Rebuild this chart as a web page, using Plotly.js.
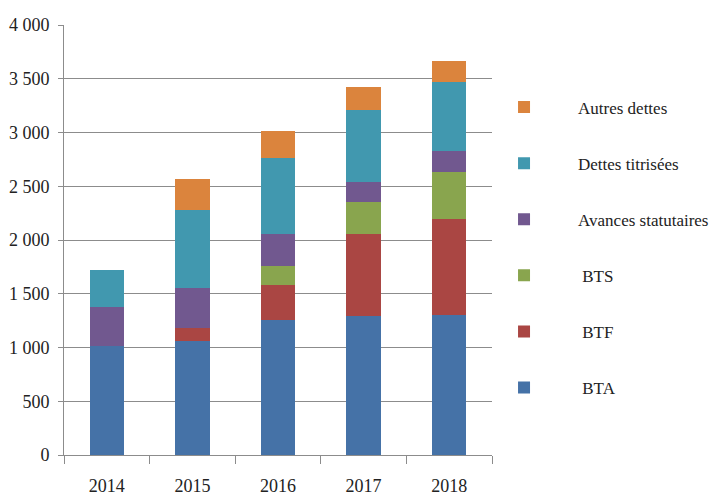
<!DOCTYPE html>
<html>
<head>
<meta charset="utf-8">
<script src="https://cdn.plot.ly/plotly-3.0.1.min.js"></script>
<style>html,body{margin:0;padding:0;background:#fff;}#chart{width:710px;height:495px;}</style>
</head>
<body>
<div id="chart"></div>
<script>
var years = ['2014', '2015', '2016', '2017', '2018'];
var bta = [1016, 1062, 1258, 1291, 1304];
var btf = [0, 115, 319, 763, 890];
var bts = [0, 0, 183, 298, 434];
var avances = [365, 378, 297, 183, 204];
var dettesTitrisees = [342, 726, 707, 676, 639];
var autresDettes = [0, 285, 252, 214, 192];
var seriesNames = ['BTA', 'BTF', 'BTS', 'Avances statutaires', 'Dettes titrisées', 'Autres dettes'];
var seriesValues = [bta, btf, bts, avances, dettesTitrisees, autresDettes];
var colors = ['#4572A7', '#AA4643', '#89A54E', '#71588F', '#4198AF', '#DB843D'];
var pad = '\u00a0\u00a0\u00a0\u00a0\u00a0\u00a0\u00a0\u00a0';
var labelPrefix = [pad + '\u00a0', pad + '\u00a0', pad + '\u00a0', pad, pad, pad];

var traces = seriesValues.map(function (vals, i) {
  return {
    type: 'bar',
    x: years,
    y: vals,
    name: labelPrefix[i] + seriesNames[i],
    legendgroup: 'g' + i,
    legendrank: 1000 - i * 10,
    marker: {color: colors[i], line: {width: 0}},
    hoverinfo: 'x+y+name'
  };
});

var layout = {
  width: 710,
  height: 495,
  barmode: 'stack',
  bargap: 0.6,
  separators: ', ',
  paper_bgcolor: '#ffffff',
  plot_bgcolor: '#ffffff',
  margin: {l: 64, r: 218, t: 25, b: 40},
  font: {family: '"Liberation Serif", "DejaVu Serif", serif', size: 18, color: '#222222'},
  xaxis: {
    type: 'category',
    showgrid: false,
    showline: true,
    linecolor: '#8c8c8c',
    linewidth: 1,
    ticks: 'outside',
    tickson: 'boundaries',
    ticklen: 8,
    tickcolor: '#8c8c8c',
    tickfont: {size: 18},
    ticklabelstandoff: 14,
    fixedrange: true
  },
  yaxis: {
    range: [0, 4000],
    dtick: 500,
    tick0: 0,
    tickformat: ',d',
    showgrid: true,
    gridcolor: '#8c8c8c',
    gridwidth: 1,
    showline: true,
    linecolor: '#8c8c8c',
    ticks: 'outside',
    ticklen: 5,
    tickcolor: '#8c8c8c',
    tickfont: {size: 18},
    ticklabelstandoff: 5,
    zeroline: false,
    fixedrange: true
  },
  legend: {
    xref: 'container',
    x: 0.7099,
    xanchor: 'left',
    y: 0.85,
    yanchor: 'top',
    traceorder: 'grouped',
    tracegroupgap: 31,
    itemwidth: 30,
    font: {family: '"Liberation Serif", "DejaVu Serif", serif', size: 17, color: '#222222'},
    bgcolor: 'rgba(0,0,0,0)'
  },
  showlegend: true
};

Plotly.newPlot('chart', traces, layout, {displayModeBar: false, staticPlot: true});
</script>
</body>
</html>
